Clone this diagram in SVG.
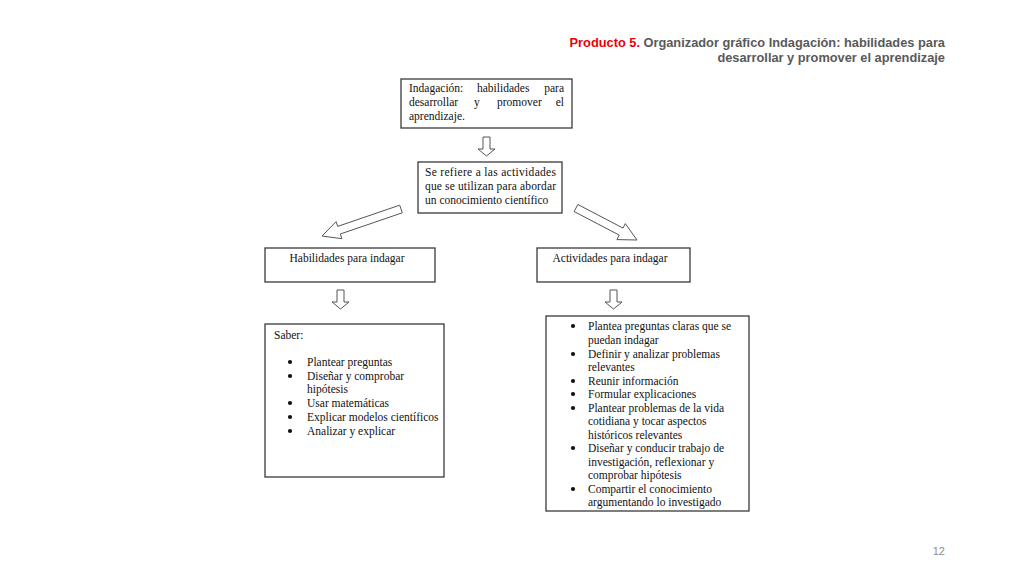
<svg xmlns="http://www.w3.org/2000/svg" width="1024" height="576" viewBox="0 0 1024 576">
<style>
.box{fill:#fff;stroke:#3a3a3a;stroke-width:1.3}
.t{font-family:"Liberation Serif","Times New Roman",serif;font-size:11.5px;fill:#111}
.dot{fill:#111}
.arr{fill:#fff;stroke:#555;stroke-width:1}
.title{font-family:"Liberation Sans",Arial,sans-serif;font-size:12.8px;font-weight:bold;fill:#595959}
</style>
<rect width="1024" height="576" fill="#fff"/>
<g id="title">
<text class="title" x="945" y="47" text-anchor="end"><tspan fill="#e8000b">Producto 5.</tspan> Organizador gráfico Indagación: habilidades para</text>
<text class="title" x="945" y="62" text-anchor="end">desarrollar y promover el aprendizaje</text>
</g>
<g id="connectors">
<polygon class="arr" points="483,137 490,137 490,149 495,149 486.5,156 478,149 483,149"/>
<polygon class="arr" points="399.7,205.2 337.7,226.4 336.1,221.7 322,236 341.9,238.7 340.3,234 402.3,212.8"/>
<polygon class="arr" points="577.9,204.5 623,228.1 625.3,223.6 637,240 616.9,239.6 619.2,235.1 574.1,211.5"/>
<polygon class="arr" points="337,290 344,290 344,302 349,302 340.5,309 332,302 337,302"/>
<polygon class="arr" points="610,290 617,290 617,302 622,302 613.5,309 605,302 610,302"/>
</g>
<g id="node-indagacion">
<rect class="box" x="401" y="79" width="171" height="49"/>
<text class="t" y="92"><tspan x="409">Indagación:</tspan><tspan x="477">habilidades</tspan><tspan x="564" text-anchor="end">para</tspan></text>
<text class="t" y="106"><tspan x="409">desarrollar</tspan><tspan x="474">y</tspan><tspan x="497">promover</tspan><tspan x="564" text-anchor="end">el</tspan></text>
<text class="t" x="409" y="120">aprendizaje.</text>
</g>
<g id="node-refiere">
<rect class="box" x="418" y="162" width="144" height="51"/>
<text class="t" x="425" y="176" textLength="131" lengthAdjust="spacing">Se refiere a las actividades</text>
<text class="t" x="425" y="190" textLength="131" lengthAdjust="spacing">que se utilizan para abordar</text>
<text class="t" x="425" y="204">un conocimiento científico</text>
</g>
<g id="node-habilidades">
<rect class="box" x="265" y="248" width="170" height="34"/>
<text class="t" x="347" y="262" text-anchor="middle">Habilidades para indagar</text>
</g>
<g id="node-actividades">
<rect class="box" x="537" y="248" width="153" height="34"/>
<text class="t" x="610" y="262" text-anchor="middle">Actividades para indagar</text>
</g>
<g id="node-saber">
<rect class="box" x="265" y="324" width="179" height="153"/>
<text class="t" x="274" y="339">Saber:</text>
<g class="dot">
<circle cx="290" cy="362" r="2.1"/>
<circle cx="290" cy="376" r="2.1"/>
<circle cx="290" cy="403" r="2.1"/>
<circle cx="290" cy="417" r="2.1"/>
<circle cx="290" cy="431" r="2.1"/>
</g>
<g class="t">
<text x="307" y="366">Plantear preguntas</text>
<text x="307" y="380">Diseñar y comprobar</text>
<text x="307" y="393">hipótesis</text>
<text x="307" y="407">Usar matemáticas</text>
<text x="307" y="421">Explicar modelos científicos</text>
<text x="307" y="435">Analizar y explicar</text>
</g>
</g>
<g id="node-lista">
<rect class="box" x="546" y="316" width="203" height="195"/>
<g class="dot">
<circle cx="573" cy="326" r="2.1"/>
<circle cx="573" cy="354" r="2.1"/>
<circle cx="573" cy="381" r="2.1"/>
<circle cx="573" cy="394" r="2.1"/>
<circle cx="573" cy="408" r="2.1"/>
<circle cx="573" cy="448" r="2.1"/>
<circle cx="573" cy="489" r="2.1"/>
</g>
<g class="t">
<text x="588" y="330">Plantea preguntas claras que se</text>
<text x="588" y="344">puedan indagar</text>
<text x="588" y="358">Definir y analizar problemas</text>
<text x="588" y="371">relevantes</text>
<text x="588" y="385">Reunir información</text>
<text x="588" y="398">Formular explicaciones</text>
<text x="588" y="412">Plantear problemas de la vida</text>
<text x="588" y="425">cotidiana y tocar aspectos</text>
<text x="588" y="439">históricos relevantes</text>
<text x="588" y="452">Diseñar y conducir trabajo de</text>
<text x="588" y="466">investigación, reflexionar y</text>
<text x="588" y="479">comprobar hipótesis</text>
<text x="588" y="493">Compartir el conocimiento</text>
<text x="588" y="506">argumentando lo investigado</text>
</g>
</g>
<text x="945" y="555" text-anchor="end" font-family="Liberation Sans,Arial,sans-serif" font-size="11" fill="#8c8c8c">12</text>
</svg>
